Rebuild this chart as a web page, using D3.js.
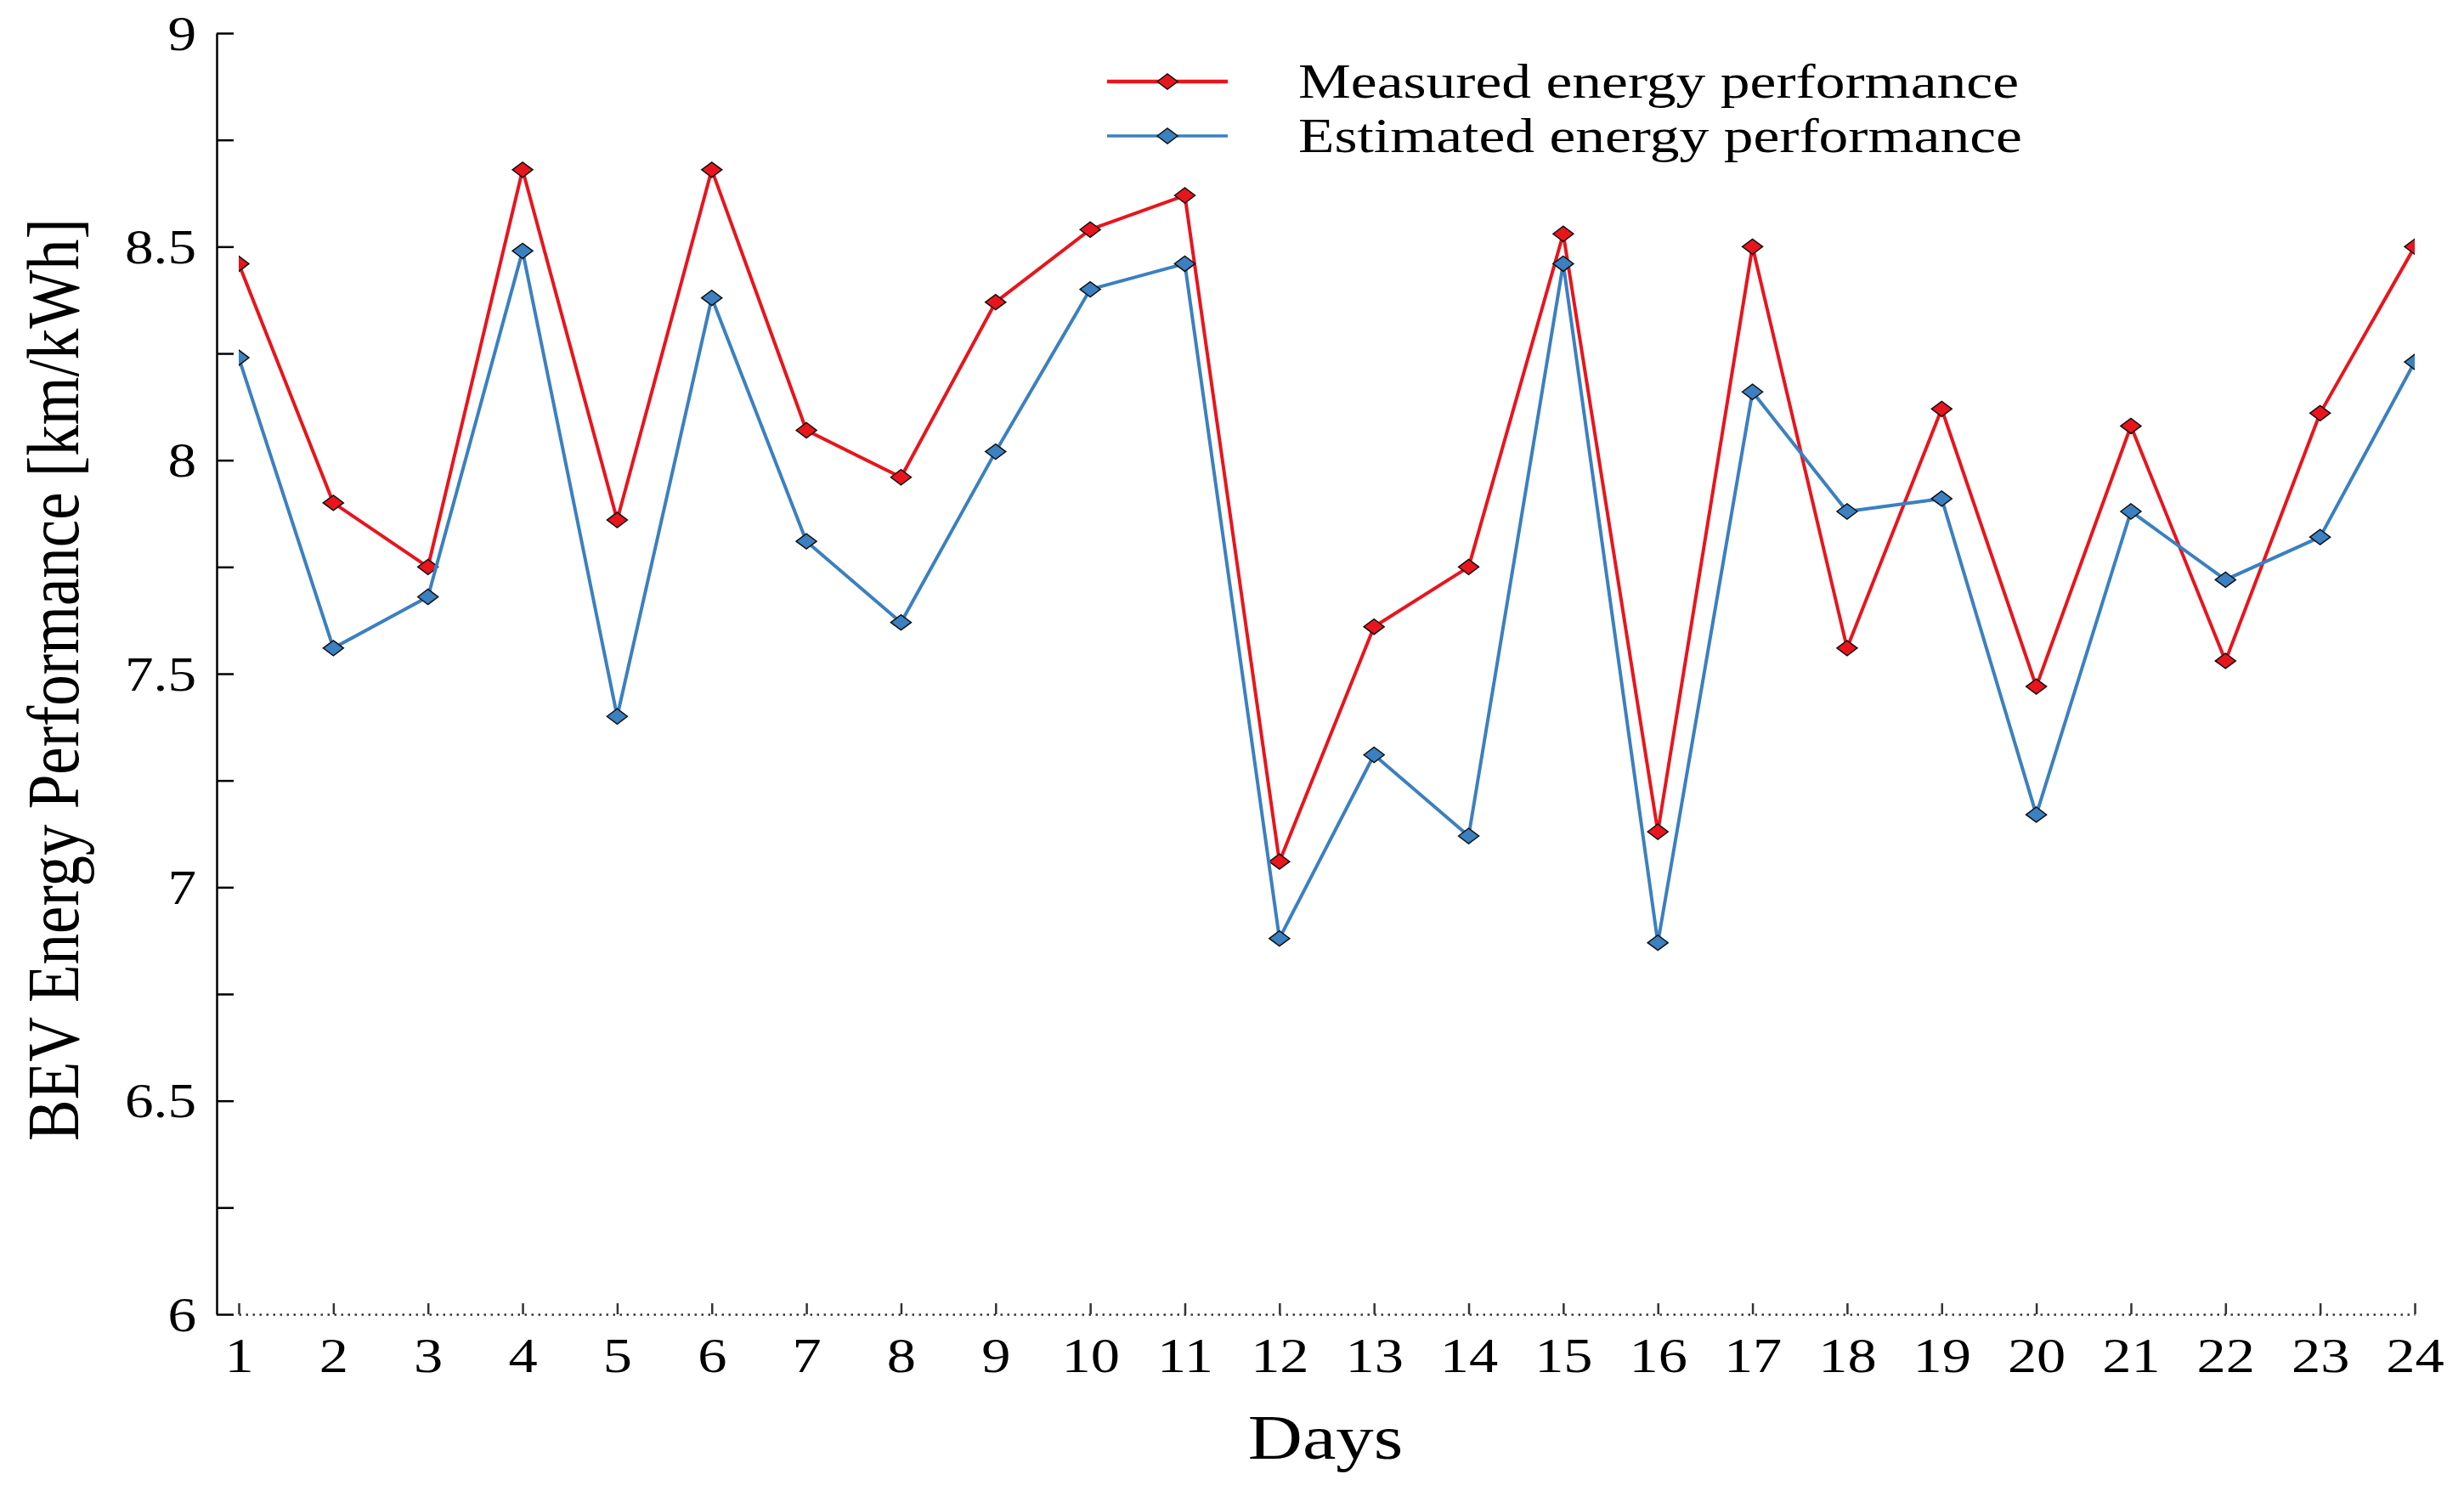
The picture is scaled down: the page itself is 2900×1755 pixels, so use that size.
<!DOCTYPE html>
<html>
<head>
<meta charset="utf-8">
<script src="https://cdn.jsdelivr.net/npm/d3@7"></script>
<style>
body { margin: 0; background: #fff; }
svg text { font-family: "Liberation Serif", "Times New Roman", serif; fill: #000; }
</style>
</head>
<body>
<svg id="chart" width="2900" height="1755"></svg>
<script>

//// DATA

// Days on the x axis
var days = [1, 2, 3, 4, 5, 6, 7, 8, 9, 10, 11, 12, 13, 14, 15, 16, 17, 18, 19, 20, 21, 22, 23, 24];
// Measured energy performance [km/kWh]
var measured = [8.46, 7.90, 7.75, 8.68, 7.86, 8.68, 8.07, 7.96, 8.37, 8.54, 8.62, 7.06,
                7.61, 7.75, 8.53, 7.13, 8.50, 7.56, 8.12, 7.47, 8.08, 7.53, 8.11, 8.50];
// Estimated energy performance [km/kWh]
var estimated = [8.24, 7.56, 7.68, 8.49, 7.40, 8.38, 7.81, 7.62, 8.02, 8.40, 8.46, 6.88,
                 7.31, 7.12, 8.46, 6.87, 8.16, 7.88, 7.91, 7.17, 7.88, 7.72, 7.82, 8.23];
// Y ticks (labelled ones and the minor ones in between)
var yTicks = [6, 6.5, 7, 7.5, 8, 8.5, 9];
var yTickLabels = ["6", "6.5", "7", "7.5", "8", "8.5", "9"];
var yMinorTicks = [6.25, 6.75, 7.25, 7.75, 8.25, 8.75];
// Series names and colours
var seriesNames = ["Measured energy performance", "Estimated energy performance"];
var seriesColors = ["#e8151d", "#3b80c0"];


//// MAIN

var svg = d3.select("#chart");

// Horizontal stretch of every text, the picture is wider than tall
var stretch = 1.2;

// Scales
var x = d3.scaleLinear().domain([1, 24]).range([281, 2842]);
var y = d3.scaleLinear().domain([6, 9]).range([1547, 39]);

// Y axis, ticks point inwards
var yAxis = d3.axisLeft(y)
    .tickValues(yTicks.concat(yMinorTicks))
    .tickSize(-20)
    .tickSizeOuter(0)
    .tickPadding(20)
    .tickFormat(function(d) {
        var i = yTicks.indexOf(d);
        return i >= 0 ? yTickLabels[i] : "";
    });

var gy = svg.append("g")
    .attr("transform", "translate(255,0)")
    .call(yAxis);
gy.select(".domain").attr("stroke", "#000").attr("stroke-width", 2.5);
gy.selectAll(".tick line").attr("stroke", "#000").attr("stroke-width", 2.5);
gy.selectAll(".tick text")
    .attr("font-size", 56)
    .attr("font-family", null)
    .attr("dy", "0.34em")
    .attr("transform", "scale(" + stretch + ",1)");

// X axis, dotted base line and small ticks going up
var xAxis = d3.axisBottom(x)
    .tickValues(days)
    .tickSize(-13)
    .tickSizeOuter(0)
    .tickFormat(function(d) { return d; });

var gx = svg.append("g")
    .attr("transform", "translate(0,1547)")
    .call(xAxis);
gx.select(".domain")
    .attr("stroke", "#333")
    .attr("stroke-width", 2.5)
    .attr("stroke-dasharray", "2.5,5.5");
gx.selectAll(".tick line").attr("stroke", "#333").attr("stroke-width", 2.5);
gx.selectAll(".tick text")
    .attr("font-size", 57)
    .attr("font-family", null)
    .attr("y", 68)
    .attr("dy", 0)
    .attr("transform", "scale(" + stretch + ",1)");

// Axis titles
svg.append("text")
    .attr("transform", "translate(1560,1717) scale(" + stretch + ",1)")
    .attr("text-anchor", "middle")
    .attr("font-size", 74)
    .text("Days");

svg.append("text")
    .attr("transform", "translate(92,800) scale(" + stretch + ",1) rotate(-90)")
    .attr("text-anchor", "middle")
    .attr("font-size", 73)
    .text("BEV Energy Performance [km/kWh]");

// Clip so the end markers are cut at the first and last day
svg.append("clipPath")
    .attr("id", "plotclip")
    .append("rect")
    .attr("x", x(1))
    .attr("y", 0)
    .attr("width", x(24) - x(1))
    .attr("height", 1755);

var plot = svg.append("g").attr("clip-path", "url(#plotclip)");

// Diamond marker shape, a bit wider than tall
var diamond = "M-12,0L0,-9L12,0L0,9Z";

var line = d3.line()
    .x(function(d) { return x(d[0]); })
    .y(function(d) { return y(d[1]); });

// Draw both series
var allSeries = [measured, estimated];
allSeries.forEach(function(values, s) {

    var pts = days.map(function(d, i) { return [d, values[i]]; });

    plot.append("path")
        .datum(pts)
        .attr("fill", "none")
        .attr("stroke", seriesColors[s])
        .attr("stroke-width", 4)
        .attr("stroke-linejoin", "round")
        .attr("d", line);

    plot.selectAll(".m" + s)
        .data(pts)
        .enter()
        .append("path")
        .attr("class", "m" + s)
        .attr("d", diamond)
        .attr("transform", function(d) { return "translate(" + x(d[0]) + "," + y(d[1]) + ")"; })
        .attr("fill", seriesColors[s])
        .attr("stroke", "#111")
        .attr("stroke-width", 1.5);
});

// Legend
var legendY = [96, 160];
seriesNames.forEach(function(name, s) {

    var g = svg.append("g").attr("transform", "translate(0," + legendY[s] + ")");

    g.append("line")
        .attr("x1", 1303).attr("x2", 1445)
        .attr("stroke", seriesColors[s])
        .attr("stroke-width", s == 0 ? 4.5 : 3.5);

    g.append("path")
        .attr("d", diamond)
        .attr("transform", "translate(1374,0)")
        .attr("fill", seriesColors[s])
        .attr("stroke", "#111")
        .attr("stroke-width", 1.5);

    g.append("text")
        .attr("transform", "translate(1528,19) scale(1.22,1)")
        .attr("font-size", 57)
        .text(name);
});

</script>
</body>
</html>
